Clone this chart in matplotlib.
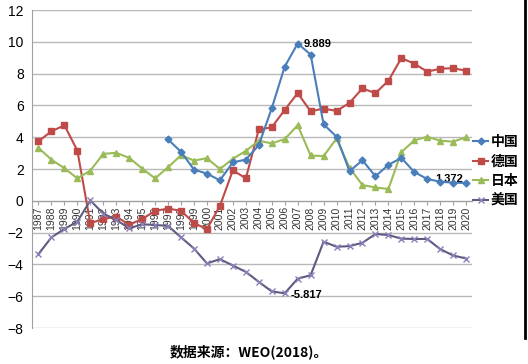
import matplotlib.pyplot as plt
from matplotlib.lines import Line2D

plt.rcParams['font.family'] = ['Liberation Sans', 'Noto Sans CJK SC', 'DejaVu Sans']

years = list(range(1987, 2021))

# current account balance, % of GDP
china_years = list(range(1997, 2021))
china = [3.86, 3.08, 1.96, 1.71, 1.29, 2.42, 2.59, 3.50, 5.82, 8.44, 9.889, 9.20,
         4.81, 4.03, 1.86, 2.55, 1.54, 2.26, 2.70, 1.81, 1.372, 1.20, 1.14, 1.12]
germany = [3.75, 4.37, 4.75, 3.16, -1.41, -1.14, -1.00, -1.50, -1.15, -0.63, -0.49, -0.63,
           -1.40, -1.78, -0.32, 1.92, 1.41, 4.49, 4.62, 5.72, 6.77, 5.63, 5.80, 5.65,
           6.16, 7.07, 6.77, 7.55, 8.97, 8.63, 8.12, 8.31, 8.34, 8.18]
japan = [3.33, 2.59, 2.05, 1.41, 1.90, 2.95, 3.02, 2.70, 2.03, 1.41, 2.11, 2.87,
         2.53, 2.68, 2.00, 2.64, 3.14, 3.78, 3.61, 3.88, 4.75, 2.85, 2.81, 3.92,
         2.07, 0.99, 0.84, 0.74, 3.06, 3.80, 4.03, 3.78, 3.72, 4.00]
usa = [-3.35, -2.30, -1.77, -1.31, 0.02, -0.80, -1.20, -1.73, -1.48, -1.52, -1.58, -2.30,
       -3.00, -3.94, -3.67, -4.07, -4.47, -5.10, -5.70, -5.817, -4.90, -4.68, -2.57, -2.89,
       -2.85, -2.64, -2.09, -2.15, -2.38, -2.40, -2.40, -3.04, -3.44, -3.63]

x_all = list(range(len(years)))
x_china = [years.index(y) for y in china_years]

fig = plt.figure(figsize=(5.28, 3.64), dpi=100)
ax = fig.add_axes([0.0606, 0.0989, 0.8333, 0.8736])

ax.plot(x_china, china, color='#4a7ebb', marker='D', markersize=3.5, lw=1.5, label='中国', zorder=4)
ax.plot(x_all, germany, color='#be4b48', marker='s', markersize=4.5, lw=1.5, label='德国', zorder=3)
ax.plot(x_all, japan, color='#9bbb59', marker='^', markersize=4.5, lw=1.5, label='日本', zorder=3)
ax.plot(x_all, usa, color='#5f5a80', marker='x', markersize=4, mec='#8a80b8', lw=1.5, label='美国', zorder=3)

ax.set_xlim(-0.5, len(years) - 0.55)
ax.set_ylim(-8, 12)
ax.set_yticks(range(-8, 13, 2))
ax.grid(axis='y', color='#b8b8b8', lw=1)
ax.set_axisbelow(True)

for s in ['top', 'right']:
    ax.spines[s].set_visible(False)
ax.spines['left'].set_color('#a0a0a0')
ax.spines['bottom'].set_position(('data', 0))
ax.spines['bottom'].set_color('#a0a0a0')

ax.set_xticks(x_all)
ax.set_xticklabels([str(y) for y in years], rotation=90, fontsize=7.5, color='#333333')
ax.tick_params(axis='x', length=3, color='#a0a0a0', pad=1)
ax.tick_params(axis='y', length=0, labelsize=10, pad=6)

# data labels
ax.annotate('9.889', (years.index(2007), 9.889), xytext=(4, 0), textcoords='offset points',
            fontsize=8, fontweight='bold', va='center')
ax.annotate('-5.817', (years.index(2006), -5.817), xytext=(4, -1), textcoords='offset points',
            fontsize=8, fontweight='bold', va='center')
ax.annotate('1.372', (years.index(2017), 1.372), xytext=(6, 0), textcoords='offset points',
            fontsize=8, fontweight='bold', va='center')

handles, labels = ax.get_legend_handles_labels()
fig.legend(handles, labels, loc='upper left', bbox_to_anchor=(473 / 528, 1 - 135 / 364),
           frameon=False, borderpad=0, borderaxespad=0,
           handlelength=1.1, handletextpad=0.2, labelspacing=0.4,
           prop={'family': 'Noto Sans CJK SC', 'size': 10, 'weight': 'bold'})

# right frame edge
fig.add_artist(Line2D([525 / 528, 525 / 528], [1, 1 - 338 / 364], color='black', lw=2))

fig.text(0.472, 1 - 352 / 364, '数据来源：WEO(2018)。', ha='center', va='center',
         fontsize=10, fontweight='bold', family=['Noto Sans CJK SC', 'DejaVu Sans'])

fig.savefig('out.png', dpi=100)
